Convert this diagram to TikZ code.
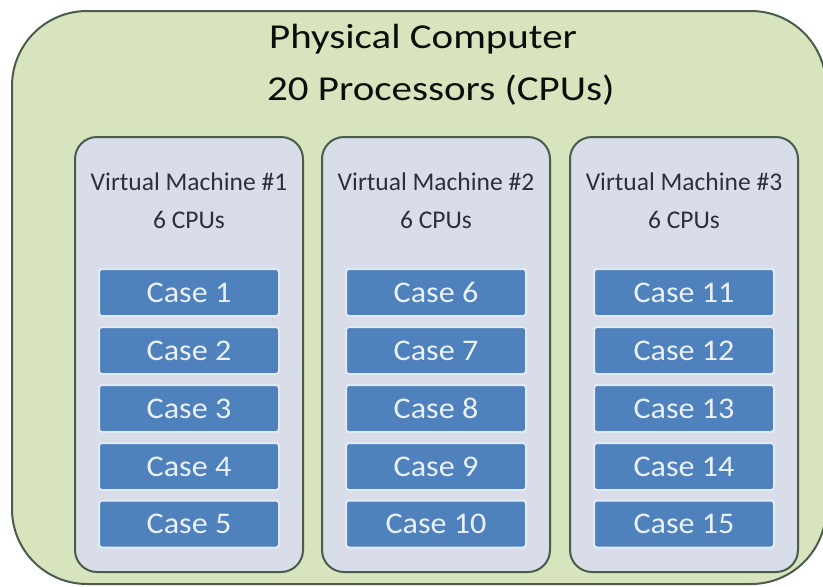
\documentclass[tikz,border=0pt]{standalone}
\usepackage{fontspec}
\setmainfont{Carlito}
\newfontfamily\titlefont{Carlito}[FakeStretch=1.17]
\newfontfamily\casefont{Carlito}[FakeStretch=1.07]
\usepackage{tikz}
\usepackage{xcolor}
\definecolor{pcgreen}{HTML}{D7E4BD}
\definecolor{pcline}{HTML}{4A5C4C}
\definecolor{vmgray}{HTML}{D9DDEA}
\definecolor{vmtext}{HTML}{2B303A}
\definecolor{caseblue}{HTML}{4F81BD}
\definecolor{caseline}{HTML}{E2EAF5}
\definecolor{casetext}{HTML}{EAF1FA}

\begin{document}
\begin{tikzpicture}[x=1pt,y=-1pt]
\tikzset{
    pc/.style={%
        draw=pcline, line width=2pt,
        fill=pcgreen,
        rectangle,
        rounded corners=75pt,
        minimum width=814pt,
        minimum height=573pt
        },
    vm/.style={%
        draw=pcline, line width=2pt,
        fill=vmgray,
        rectangle,
        rounded corners=22pt,
        minimum width=228pt,
        minimum height=435pt
        },
    cs/.style={%
        draw=caseline, line width=2pt,
        fill=caseblue,
        rectangle,
        rounded corners=3pt,
        inner sep=0pt,
        minimum width=180pt,
        minimum height=47pt,
        text=casetext,
        font=\casefont\fontsize{30}{30}\selectfont
        },
    ttl/.style={%
        anchor=base west, inner sep=0pt,
        text=black!85!pcline,
        font=\titlefont\fontsize{35}{35}\selectfont
        },
    vmt/.style={%
        anchor=base, inner sep=0pt,
        text=vmtext,
        font=\fontsize{25.5}{25.5}\selectfont
        },
}
\useasboundingbox (0,0) rectangle (823,587);
\clip (0,0) rectangle (823,587);
%%%PHYSICAL COMPUTER
\node[pc] (pc) at (419,297.5) {};
\node[ttl] (title1) at (269,48) {Physical Computer};
\node[ttl] (title2) at (267,100) {20 Processors (CPUs)};
%%%VIRTUAL MACHINES
\node[vm] (vm1) at (189,354.5) {};
\node[vm] (vm2) at (436,354.5) {};
\node[vm] (vm3) at (684,354.5) {};
\node[vmt] (vm1name) at (189,190) {Virtual Machine \#1};
\node[vmt] (vm1cpu)  at (189,228) {6 CPUs};
\node[vmt] (vm2name) at (436,190) {Virtual Machine \#2};
\node[vmt] (vm2cpu)  at (436,228) {6 CPUs};
\node[vmt] (vm3name) at (684,190) {Virtual Machine \#3};
\node[vmt] (vm3cpu)  at (684,228) {6 CPUs};
%%%CASES
\node[cs] (case1)  at (189,292.5) {Case 1};
\node[cs] (case2)  at (189,350.5) {Case 2};
\node[cs] (case3)  at (189,408.5) {Case 3};
\node[cs] (case4)  at (189,466.5) {Case 4};
\node[cs] (case5)  at (189,524) {Case 5};
\node[cs] (case6)  at (436,292.5) {Case 6};
\node[cs] (case7)  at (436,350.5) {Case 7};
\node[cs] (case8)  at (436,408.5) {Case 8};
\node[cs] (case9)  at (436,466.5) {Case 9};
\node[cs] (case10) at (436,524) {Case 10};
\node[cs] (case11) at (684,292.5) {Case 11};
\node[cs] (case12) at (684,350.5) {Case 12};
\node[cs] (case13) at (684,408.5) {Case 13};
\node[cs] (case14) at (684,466.5) {Case 14};
\node[cs] (case15) at (684,524) {Case 15};
\end{tikzpicture}
\end{document}
